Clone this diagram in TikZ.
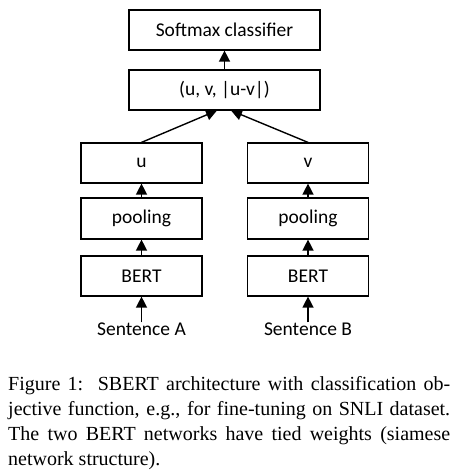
\documentclass[tikz,border=0pt]{standalone}
\usepackage{fontspec}
\setmainfont{Liberation Serif}
\newfontfamily\boxfont{Carlito}
\usetikzlibrary{arrows.meta}
\begin{document}
\begin{tikzpicture}[x=1pt,y=-1pt,
  blk/.style={draw,line width=1.2pt,inner sep=0pt,font=\boxfont\fontsize{19.5}{23}\selectfont},
  arr/.style={line width=1.4pt,-{Triangle[length=11pt,width=11pt]}},
  lab/.style={inner sep=0pt,font=\boxfont\fontsize{19.5}{23}\selectfont}]
\useasboundingbox (0,0) rectangle (456,473);
\node[blk,minimum width=191pt,minimum height=40pt] (soft) at (224.5,30) {Softmax classifier};
\node[blk,minimum width=191pt,minimum height=40pt] (cat) at (224.5,90) {(u, v, |u-v|)};
\node[blk,minimum width=121pt,minimum height=40pt] (u) at (141.5,163) {u};
\node[blk,minimum width=121pt,minimum height=41pt] (pa) at (141.5,218.5) {pooling};
\node[blk,minimum width=121pt,minimum height=40pt] (ba) at (141.5,276) {BERT};
\node[blk,minimum width=121pt,minimum height=40pt] (v) at (308,163) {v};
\node[blk,minimum width=121pt,minimum height=41pt] (pb) at (308,218.5) {pooling};
\node[blk,minimum width=121pt,minimum height=40pt] (bb) at (308,276) {BERT};
\node[lab] (sa) at (141.5,329) {Sentence A};
\node[lab] (sb) at (308,329) {Sentence B};
\coordinate (ca) at (217,110.5);
\coordinate (cb) at (231,110.5);
\draw[arr] (cat.north) -- (soft.south);
\draw[arr] (u.north) -- (ca);
\draw[arr] (v.north) -- (cb);
\draw[arr] (pa.north) -- (u.south);
\draw[arr] (pb.north) -- (v.south);
\draw[arr] (ba.north) -- (pa.south);
\draw[arr] (bb.north) -- (pb.south);
\draw[arr] (sa.north) -- (ba.south);
\draw[arr] (sb.north) -- (bb.south);
\node[anchor=north west,inner sep=0pt,text width=442pt,align=justify,font=\fontsize{20}{25}\selectfont] (cap) at (8,376)
{Figure 1:\ \ SBERT architecture with classification ob-\linebreak jective function, e.g., for fine-tuning on SNLI dataset.\linebreak The two BERT networks have tied weights (siamese\linebreak network structure).};
\end{tikzpicture}
\end{document}
